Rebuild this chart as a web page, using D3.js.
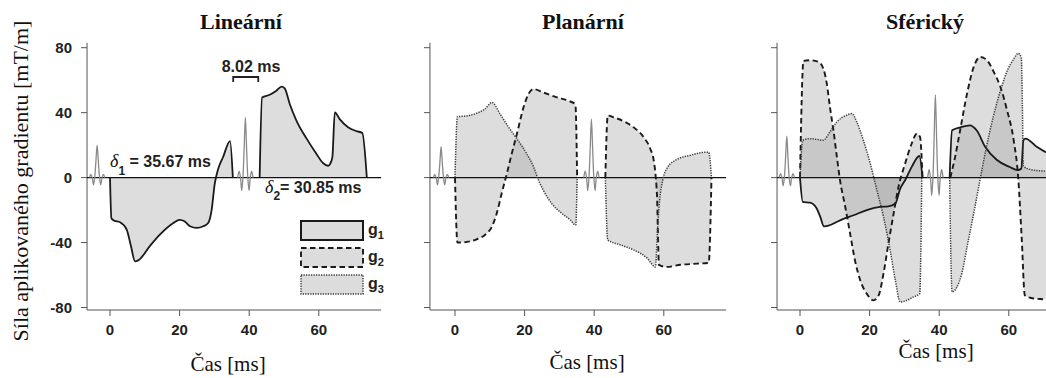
<!DOCTYPE html>
<html>
<head>
<meta charset="utf-8">
<script src="https://cdn.jsdelivr.net/npm/d3@7"></script>
<style>
  body { margin: 0; background: #fff; }
  svg { display: block; }
  .serif { font-family: "Liberation Serif", "Tinos", "DejaVu Serif", serif; fill: #111; }
  .sans { font-family: "Liberation Sans", Arial, sans-serif; font-weight: bold; fill: #222; }
</style>
</head>
<body>
<svg id="chart" width="1046" height="378"></svg>
<script>
// --- data (time in ms, gradient in mT/m) ---
const titles = ["Lineární", "Planární", "Sférický"];
const xTicks = [0, 20, 40, 60];
const yTicks = [80, 40, 0, -40, -80];
const legendLabels = ["1", "2", "3"];

// RF pulse shape: time offsets around each pulse centre
const rfT = [-2.2, -1.8, -1.4, -1.05, -0.7, -0.35, 0, 0.35, 0.7, 1.05, 1.4, 1.8, 2.2];
const rfLin1 = [0, 2, 0, -4.5, 0, 10, 20, 10, 0, -4.5, 0, 2, 0];
const rfLin2 = [0, 4, 0, -8, 0, 18, 37, 18, 0, -8, 0, 4, 0];
const rfPla1 = [0, 2, 0, -4.5, 0, 9, 19, 9, 0, -4.5, 0, 2, 0];
const rfPla2 = [0, 4, 0, -8, 0, 18, 36, 18, 0, -8, 0, 4, 0];
const rfSfe1 = [0, 2.5, 0, -5, 0, 12, 25.5, 12, 0, -5, 0, 2.5, 0];
const rfSfe2 = [0, 5, 0, -11, 0, 25, 51, 25, 0, -11, 0, 5, 0];
const rfCentres = [[-3.7, 38.9], [-4.0, 39.2], [-3.8, 38.9]];

// Lineární
const linG1a = [[0,0],[0.4,-25],[1.2,-26.5],[2.9,-27.5],[4.8,-32],[6.0,-42],[7.2,-51.6],[8.1,-51],[11.5,-42],[14.4,-35],[18.2,-28],[20,-26],[21.5,-27],[23,-30],[24.9,-31],[26.8,-30],[28.2,-28],[29.2,-20],[30.1,-3.7],[31.1,5.5],[32.5,12.7],[34.5,22.5],[35.3,0]];
const linG1b = [[43.0,0],[43.7,49.4],[45.9,51],[47.8,53.5],[49.3,56],[50.2,55],[51.7,45],[53.6,35],[56.5,24],[59.3,14.7],[61.2,9],[62.7,7.3],[63.3,8.6],[63.9,12.6],[64.6,40.2],[66,36],[68.4,31],[70.8,28.6],[72.5,27.5],[73.8,0]];

// Planární
const plaG2a = [[0,0],[0.7,-40],[3.4,-39.6],[6.2,-38],[8.6,-35.3],[10.6,-30.2],[12,-22],[13.4,-9.8],[14.9,2.4],[16.3,14.7],[17.8,27],[19.7,43.3],[21.1,51.4],[22.6,54.5],[25.4,52.4],[29.3,49.4],[32.6,47.3],[34.6,45],[35.1,0]];
const plaG3a = [[0,0],[0.7,37.5],[3.4,38],[6.2,39.6],[8.6,42.2],[10.6,46.3],[13,39],[15.4,31],[17.8,23.9],[20.6,14.7],[22.6,6.5],[24,-1.6],[25.4,-7.8],[27.8,-16],[30.7,-22],[33.1,-26],[34.7,-29.2],[35.1,0]];
const plaG2b = [[43.2,0],[43.9,38.2],[45.6,37.1],[48.5,34.7],[51.3,31],[54.2,24.9],[56.1,17.8],[57.1,10.6],[57.6,2.4],[57.9,-5.7],[58.1,-13.9],[58.3,-34],[58.6,-53.7],[60.8,-55],[64.8,-53.7],[69.6,-53],[72.9,-52.5],[73.7,0]];
const plaG3b = [[43.2,0],[43.9,-38.4],[47.5,-41.4],[51.3,-44.5],[55.2,-49.6],[57.6,-55],[58.2,-32],[58.8,-14],[59.7,-1.5],[61.1,6.4],[63.4,10.7],[67.7,13.8],[72,15.6],[72.9,15.6],[73.7,0]];

// Sférický
const sfeG1a = [[0,0],[0.8,-15],[2.9,-15.4],[4.8,-19],[5.8,-24],[6.9,-30],[8.2,-29.6],[11.5,-26.3],[15.4,-23.2],[19.2,-20],[23,-18],[25.4,-17.7],[27.4,-16],[28.8,-6.8],[30.2,-1.6],[32.1,6.6],[34.3,13.3],[35.2,0]];
const sfeG2a = [[0,0],[1,71.9],[2.9,72.3],[5.3,71.3],[6.7,67.1],[7.7,57.9],[8.6,43.5],[9.6,29.2],[10.6,12.7],[11.5,-1.6],[13,-18],[14.4,-34.5],[15.8,-51],[17.3,-63.2],[19.2,-71.5],[21.1,-75.6],[22.6,-72.5],[24,-59],[25.4,-40.7],[26.9,-22.2],[28.3,-5.7],[30.2,8.6],[32.1,21],[33.6,27.1],[34.5,25],[35.2,0]];
const sfeG3a = [[0,0],[0.8,23],[2.9,24],[6.7,23],[8.6,28.1],[10.6,34.3],[13.4,38.4],[14.9,39.4],[16.3,34.3],[18.2,23],[20.2,8.6],[22.1,-7.8],[24,-24.2],[25.9,-44.8],[27.4,-63.2],[28.8,-76.6],[30.7,-75.6],[32.6,-73.5],[34.4,-71.5],[35,0]];
const sfeG1b = [[43,0],[43.7,29.2],[46.1,31],[48.8,32.2],[50.8,29],[53.2,19],[56.5,11],[60.3,6.5],[62.6,4.6],[63.6,5.6],[64.2,23],[64.8,24],[68,19],[70.7,15.6],[73,14],[73.8,13.5],[74.3,0]];
const sfeG2b = [[43.2,0],[44.5,12],[46,29],[48,51.7],[49.9,68],[51.8,74.3],[53.7,72.3],[55.7,65],[57.6,55.8],[59.5,41.5],[61.4,23],[62.7,0],[63.7,-37],[64.6,-72.5],[66.2,-74],[69.1,-74.8],[72,-75],[73.6,-75],[74.3,0]];
const sfeG3b = [[43,0],[43.7,-70.4],[45.1,-67.4],[46.5,-59],[48,-42.7],[49.9,-22.2],[51.5,-4],[53.5,18],[55.6,38],[57.8,55],[59.8,67],[61.4,73],[62.7,76.5],[63.6,74],[63.9,45],[64.2,7],[66.2,5],[69.1,4.2],[72,3.8],[73.6,3.6],[74.3,0]];

const bracketT = [35.4, 42.6];

// --- layout ---
const panels = [
  { x0: 110, xMin: -6.6, title: 241, xlab: 228, xlabY: 371,
    series: [[linG1a, "g1"], [linG1b, "g1"]], rf: [rfLin1, rfLin2] },
  { x0: 455, xMin: -7.2, title: 583, xlab: 587, xlabY: 369,
    series: [[plaG2a, "g2"], [plaG3a, "g3"], [plaG2b, "g2"], [plaG3b, "g3"]], rf: [rfPla1, rfPla2] },
  { x0: 800, xMin: -6.6, title: 925, xlab: 936, xlabY: 358,
    series: [[sfeG1a, "g1"], [sfeG2a, "g2"], [sfeG3a, "g3"], [sfeG1b, "g1"], [sfeG2b, "g2"], [sfeG3b, "g3"]], rf: [rfSfe1, rfSfe2] }
];
const pxPerMs = 3.48;
const xMax = 77.9;

const styles = {
  g1: { dash: null, width: 1.8, color: "#1a1a1a" },
  g2: { dash: "5.5,3.5", width: 1.9, color: "#1a1a1a" },
  g3: { dash: "1.3,1.2", width: 1.5, color: "#3a3a3a" }
};

const svg = d3.select("#chart");
const y = d3.scaleLinear().domain([-80, 80]).range([307.5, 47.7]);
const yBottom = 310;

panels.forEach((p, i) => {
  const x = d3.scaleLinear()
    .domain([p.xMin, xMax])
    .range([p.x0 + p.xMin * pxPerMs, p.x0 + xMax * pxPerMs]);
  const g = svg.append("g");
  const axisX = x(p.xMin);

  // title
  g.append("text").attr("class", "serif")
    .attr("x", p.title).attr("y", 29)
    .attr("text-anchor", "middle")
    .attr("font-size", 22).attr("font-weight", "bold")
    .text(titles[i]);

  // axes
  g.append("line")
    .attr("x1", axisX).attr("x2", axisX)
    .attr("y1", y(83)).attr("y2", yBottom)
    .attr("stroke", "#555").attr("stroke-width", 1);
  g.append("line")
    .attr("x1", axisX).attr("x2", x(xMax))
    .attr("y1", yBottom).attr("y2", yBottom)
    .attr("stroke", "#555").attr("stroke-width", 1);

  g.selectAll(".yt").data(yTicks).enter().append("line")
    .attr("x1", axisX - 6).attr("x2", axisX)
    .attr("y1", d => y(d)).attr("y2", d => y(d))
    .attr("stroke", "#555");
  g.selectAll(".xt").data(xTicks).enter().append("line")
    .attr("x1", d => x(d)).attr("x2", d => x(d))
    .attr("y1", yBottom).attr("y2", yBottom + 6)
    .attr("stroke", "#555");
  g.selectAll(".xl").data(xTicks).enter().append("text")
    .attr("class", "sans").attr("font-size", 15)
    .attr("x", d => x(d)).attr("y", 335)
    .attr("text-anchor", "middle")
    .text(d => d);
  if (i === 0) {
    g.selectAll(".yl").data(yTicks).enter().append("text")
      .attr("class", "sans").attr("font-size", 15)
      .attr("x", 72).attr("y", d => y(d) + 5.5)
      .attr("text-anchor", "end")
      .text(d => d);
  }

  // x label
  g.append("text").attr("class", "serif")
    .attr("x", p.xlab).attr("y", p.xlabY)
    .attr("text-anchor", "middle").attr("font-size", 21)
    .text("Čas [ms]");

  // gradient lobes: fills first, then outlines
  const area = d3.area().x(d => x(d[0])).y0(y(0)).y1(d => y(d[1])).curve(d3.curveMonotoneX);
  const line = d3.line().x(d => x(d[0])).y(d => y(d[1])).curve(d3.curveMonotoneX);

  g.selectAll(".fill").data(p.series).enter().append("path")
    .attr("d", d => area(d[0]))
    .attr("fill", "#a6a6a6").attr("fill-opacity", 0.38);

  // zero line
  g.append("line")
    .attr("x1", axisX).attr("x2", x(xMax))
    .attr("y1", y(0)).attr("y2", y(0))
    .attr("stroke", "#111").attr("stroke-width", 1.4);

  g.selectAll(".stroke").data(p.series).enter().append("path")
    .attr("d", d => line(d[0]))
    .attr("fill", "none")
    .attr("stroke", d => styles[d[1]].color)
    .attr("stroke-width", d => styles[d[1]].width)
    .attr("stroke-dasharray", d => styles[d[1]].dash)
    .attr("stroke-linejoin", "round");

  // RF pulses
  const rfLine = d3.line().x(d => x(d[0])).y(d => y(d[1])).curve(d3.curveCatmullRom);
  p.rf.forEach((vals, k) => {
    const pts = rfT.map((t, j) => [rfCentres[i][k] + t, vals[j]]);
    g.append("path").attr("d", rfLine(pts))
      .attr("fill", "none").attr("stroke", "#8a8a8a").attr("stroke-width", 1.3);
  });

  if (i === 0) {
    // 8.02 ms bracket
    const by = 77;
    g.append("path")
      .attr("d", `M${x(bracketT[0])},${by + 5}V${by}H${x(bracketT[1])}V${by + 5}`)
      .attr("fill", "none").attr("stroke", "#222").attr("stroke-width", 1.8);
    g.append("text").attr("class", "sans").attr("font-size", 16)
      .attr("x", 251).attr("y", 72).attr("text-anchor", "middle")
      .text("8.02 ms");

    const d1 = g.append("text").attr("class", "sans").attr("font-size", 16)
      .attr("x", 110).attr("y", 167);
    d1.append("tspan").attr("class", "serif").attr("font-style", "italic").attr("font-weight", "normal")
      .attr("font-size", 18).text("δ");
    d1.append("tspan").attr("font-size", 12).attr("dy", 8).text("1");
    d1.append("tspan").attr("dy", -8).text(" = 35.67 ms");

    const d2 = g.append("text").attr("class", "sans").attr("font-size", 16)
      .attr("x", 265).attr("y", 193);
    d2.append("tspan").attr("class", "serif").attr("font-style", "italic").attr("font-weight", "normal")
      .attr("font-size", 18).text("δ");
    d2.append("tspan").attr("font-size", 12).attr("dy", 7).text("2");
    d2.append("tspan").attr("dy", -7).text("= 30.85 ms");

    // legend
    const leg = g.selectAll(".leg").data(["g1", "g2", "g3"]).enter().append("g")
      .attr("transform", (d, j) => `translate(300,${220 + j * 27})`);
    leg.append("rect")
      .attr("x", 1).attr("y", 1).attr("width", 62).attr("height", 19)
      .attr("fill", "#dcdcdc")
      .attr("stroke", d => styles[d].color)
      .attr("stroke-width", d => d === "g1" ? 2 : styles[d].width)
      .attr("stroke-dasharray", d => styles[d].dash);
    const lt = leg.append("text").attr("class", "sans").attr("font-size", 16)
      .attr("x", 68).attr("y", 15);
    lt.append("tspan").text("g");
    lt.append("tspan").attr("font-size", 11).attr("dy", 4).text((d, j) => legendLabels[j]);
  }
});

// y axis label
svg.append("text").attr("class", "serif")
  .attr("transform", "translate(28,181) rotate(-90)")
  .attr("text-anchor", "middle").attr("font-size", 22)
  .text("Síla aplikovaného gradientu [mT/m]");
</script>
</body>
</html>
